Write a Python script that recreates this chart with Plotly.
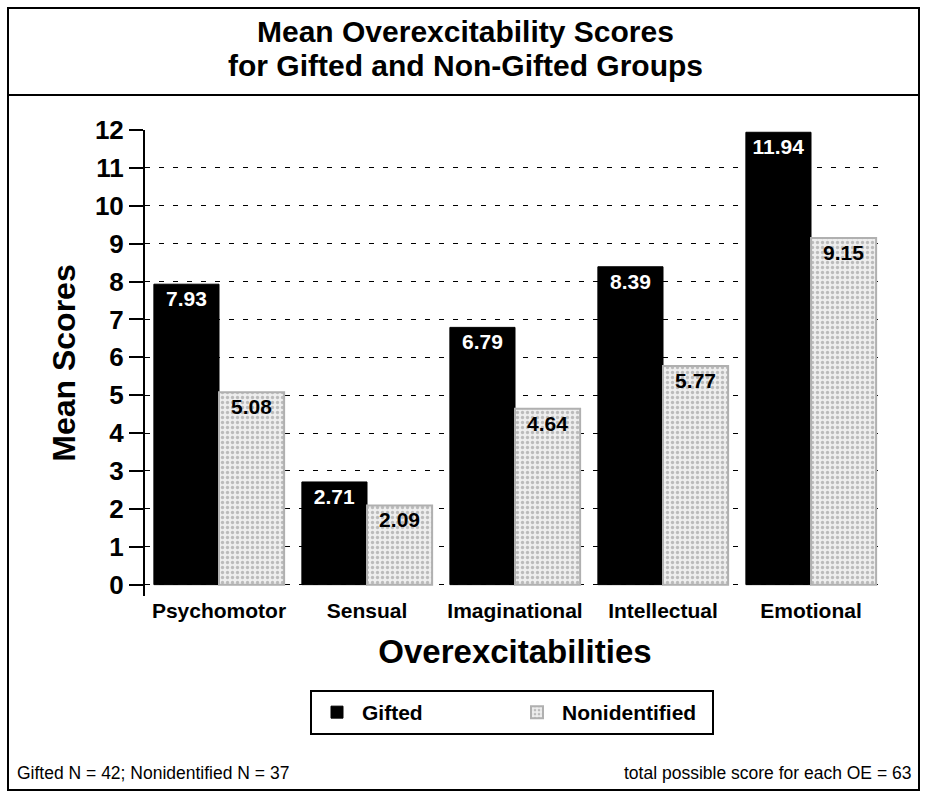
import plotly.graph_objects as go

categories = ["Psychomotor", "Sensual", "Imaginational", "Intellectual", "Emotional"]
gifted = [7.93, 2.71, 6.79, 8.39, 11.94]
nonidentified = [5.08, 2.09, 4.64, 5.77, 9.15]
y_ticks = list(range(0, 13))

W, H = 927, 794
L, R, T, B = 145, 885, 130, 596  # plot area in pixels

def px(x):
    return (x - L) / (R - L)

def py(y):
    return (B - y) / (B - T)

FONT = "Liberation Sans, Arial, sans-serif"

fig = go.Figure()
fig.add_trace(go.Bar(
    name="Gifted", x=categories, y=gifted,
    marker=dict(color="black", line=dict(color="black", width=1)),
    text=[f"{v:.2f}" for v in gifted], textposition="inside",
    insidetextanchor="end", textangle=0,
    textfont=dict(color="white", size=21, family=FONT, weight="bold"),
))
fig.add_trace(go.Bar(
    name="Nonidentified", x=categories, y=nonidentified,
    marker=dict(color="#e6e6e6", line=dict(color="#b0b0b0", width=2),
                pattern=dict(shape=".", fgcolor="#888888", bgcolor="#eeeeee",
                             size=5, solidity=0.35)),
    text=[f"{v:.2f}" for v in nonidentified], textposition="inside",
    insidetextanchor="end", textangle=0,
    textfont=dict(color="black", size=21, family=FONT, weight="bold"),
))

fig.update_layout(
    width=W, height=H,
    margin=dict(l=L, r=W - R, t=T, b=H - B, pad=0),
    paper_bgcolor="white", plot_bgcolor="white",
    barmode="group", bargap=0.12, bargroupgap=0.0,
    font=dict(family=FONT, color="black"),
    showlegend=True,
    legend=dict(
        orientation="h", x=px(512), y=py(690), xanchor="center", yanchor="top",
        bordercolor="black", borderwidth=2, bgcolor="white",
        font=dict(size=21, family=FONT, weight="bold"),
        entrywidth=145, entrywidthmode="pixels", itemwidth=40,
        traceorder="normal",
    ),
    uniformtext=dict(minsize=21, mode="show"),
)

fig.update_yaxes(
    range=[-0.3, 12.0], tickvals=y_ticks, ticktext=[str(v) for v in y_ticks],
    showline=True, linecolor="black", linewidth=2,
    ticks="outside", ticklen=14, tickwidth=2, tickcolor="black",
    tickfont=dict(size=26, family=FONT, weight="bold"),
    showgrid=True, gridcolor="black", gridwidth=1, griddash="5px,9px",
    zeroline=False,
    title=dict(text="Mean Scores", font=dict(size=32, family=FONT, weight="bold"), standoff=10),
)
fig.update_xaxes(
    showline=False, ticks="", showgrid=False,
    tickfont=dict(size=21, family=FONT, weight="bold"),
    title=dict(text="Overexcitabilities", font=dict(size=33, family=FONT, weight="bold"), standoff=18),
)

# outer frame and title box
fig.add_shape(type="rect", xref="paper", yref="paper",
              x0=px(8), x1=px(919), y0=py(790), y1=py(8),
              line=dict(color="black", width=2), layer="below")
fig.add_shape(type="line", xref="paper", yref="paper",
              x0=px(8), x1=px(919), y0=py(95), y1=py(95),
              line=dict(color="black", width=2))

fig.add_annotation(xref="paper", yref="paper", x=px(465), y=py(32),
                   text="Mean Overexcitability Scores",
                   showarrow=False, xanchor="center", yanchor="middle",
                   font=dict(size=30, family=FONT, weight="bold"))
fig.add_annotation(xref="paper", yref="paper", x=px(465), y=py(66),
                   text="for Gifted and Non-Gifted Groups",
                   showarrow=False, xanchor="center", yanchor="middle",
                   font=dict(size=30, family=FONT, weight="bold"))
fig.add_annotation(xref="paper", yref="paper", x=px(15), y=py(773),
                   text="Gifted N = 42; Nonidentified N = 37",
                   showarrow=False, xanchor="left", yanchor="middle",
                   font=dict(size=17.5, family=FONT))
fig.add_annotation(xref="paper", yref="paper", x=px(913), y=py(773),
                   text="total possible score for each OE = 63",
                   showarrow=False, xanchor="right", yanchor="middle",
                   font=dict(size=17.5, family=FONT))

fig.write_html("out.html", config={"displayModeBar": False},
               post_script="document.body.style.margin='0';document.body.style.overflow='hidden';")
